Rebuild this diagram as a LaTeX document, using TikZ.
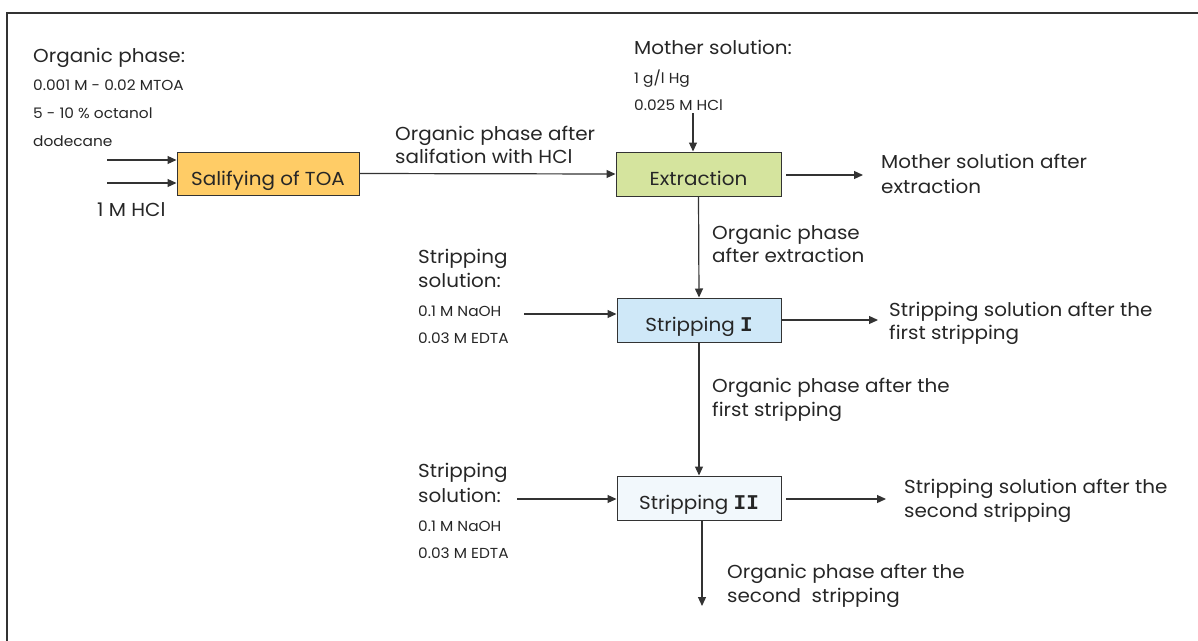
\documentclass[tikz,border=0pt]{standalone}
\usepackage{fontspec}
\setmainfont{Poppins}[FakeStretch=1.06]
\newfontfamily\romnum{Liberation Mono}
\usetikzlibrary{arrows.meta,calc}
\definecolor{edge}{HTML}{333333}
\definecolor{salfill}{HTML}{FFCC66}
\definecolor{extfill}{HTML}{D5E49E}
\definecolor{s1fill}{HTML}{CFE8F8}
\definecolor{s2fill}{HTML}{F2F8FC}
\newcommand{\stagenum}[1]{{\romnum\bfseries\fontsize{21}{22}\selectfont #1}}
\tikzset{
  x=1pt, y=-1pt,
  procbox/.style={draw=edge, line width=1pt, minimum width=164pt, minimum height=44pt,
    inner sep=0pt, text height=23pt, text depth=0pt,
    font=\fontsize{18.8}{22}\selectfont, text=black!85},
  biglbl/.style={anchor=base west, inner sep=0pt, font=\fontsize{18.8}{22}\selectfont, text=black!85},
  smalllbl/.style={anchor=base west, inner sep=0pt, font=\fontsize{14.5}{16}\selectfont, text=black!85},
  flow/.style={draw=edge, line width=1.2pt, -{Triangle[length=9pt,width=8pt]}},
}
\begin{document}
\begin{tikzpicture}
\useasboundingbox (0,0) rectangle (1198,640);
% outer frame, running off the page to the right and bottom
\draw[edge, line width=1.4pt] (1210,13) -- (7,13) -- (7,650);

% process boxes
\node[procbox, fill=salfill, minimum width=182pt, minimum height=43pt] (sal) at (268,173.5) {Salifying of TOA};
\node[procbox, fill=extfill, minimum width=165pt] (ext) at (698.5,174) {Extraction};
\node[procbox, fill=s1fill] (s1) at (699,320) {Stripping \stagenum{I}};
\node[procbox, fill=s2fill] (s2) at (699,498) {Stripping \stagenum{II}};

% organic phase feed
\node[biglbl] (org0) at (33,62) {Organic phase:};
\node[smalllbl] (org1) at (33,90) {0.001 M - 0.02 MTOA};
\node[smalllbl] (org2) at (33,118) {5 - 10 \% octanol};
\node[smalllbl] (org3) at (33,146) {dodecane};
\node[biglbl] (hcl) at (97,216) {1 M HCl};
\coordinate (in1) at (107,160);
\coordinate (in2) at (107,183);
\draw[flow] (in1) -- (sal.west |- in1);
\draw[flow] (in2) -- (sal.west |- in2);

% salified organic phase to extraction
\node[biglbl] (sa1) at (395,140) {Organic phase after};
\node[biglbl] (sa2) at (395,163) {salifation with HCl};
\draw[flow] (sal.east) -- (ext.west);

% mother solution feed
\node[biglbl] (mo0) at (634,54) {Mother solution:};
\node[smalllbl] (mo1) at (634,83) {1 g/l Hg};
\node[smalllbl] (mo2) at (634,110) {0.025 M HCl};
\coordinate (mtop) at (693,113);
\draw[flow] (mtop) -- (mtop |- ext.north);

% mother solution out
\coordinate (mout0) at (786,175);
\coordinate (mout1) at (863,175);
\draw[flow] (mout0) -- (mout1);
\node[biglbl] (ma1) at (881,168) {Mother solution after};
\node[biglbl] (ma2) at (881,193) {extraction};

% extraction to stripping I
\draw[flow] (ext.south) -- (s1.north);
\node[biglbl] (oe1) at (712,239) {Organic phase};
\node[biglbl] (oe2) at (712,262) {after extraction};

% stripping solution feed I
\node[biglbl] (sf1) at (418,263) {Stripping};
\node[biglbl] (sf2) at (418,287) {solution:};
\node[smalllbl] (sf3) at (418,316) {0.1 M NaOH};
\node[smalllbl] (sf4) at (418,343) {0.03 M EDTA};
\coordinate (f1) at (524,314);
\draw[flow] (f1) -- (s1.west |- f1);

% stripping solution out I
\coordinate (o1) at (878,320);
\draw[flow] (s1.east |- o1) -- (o1);
\node[biglbl] (so1) at (889,316) {Stripping solution after the};
\node[biglbl] (so2) at (889,339) {first stripping};

% stripping I to stripping II
\draw[flow] (s1.south) -- (s2.north);
\node[biglbl] (of1) at (712,392) {Organic phase after the};
\node[biglbl] (of2) at (712,416) {first stripping};

% stripping solution feed II
\node[biglbl] (sg1) at (418,477) {Stripping};
\node[biglbl] (sg2) at (418,502) {solution:};
\node[smalllbl] (sg3) at (418,531) {0.1 M NaOH};
\node[smalllbl] (sg4) at (418,558) {0.03 M EDTA};
\coordinate (f2) at (517,499);
\draw[flow] (f2) -- (s2.west |- f2);

% stripping solution out II
\coordinate (o2a) at (786,499);
\coordinate (o2b) at (886,499);
\draw[flow] (o2a) -- (o2b);
\node[biglbl] (st1) at (904,493) {Stripping solution after the};
\node[biglbl] (st2) at (904,517) {second stripping};

% organic phase out
\coordinate (ob) at (702,606);
\draw[flow] (ob |- s2.south) -- (ob);
\node[biglbl] (os1) at (727,578) {Organic phase after the};
\node[biglbl] (os2) at (727,602) {second\ \ stripping};
\end{tikzpicture}
\end{document}
